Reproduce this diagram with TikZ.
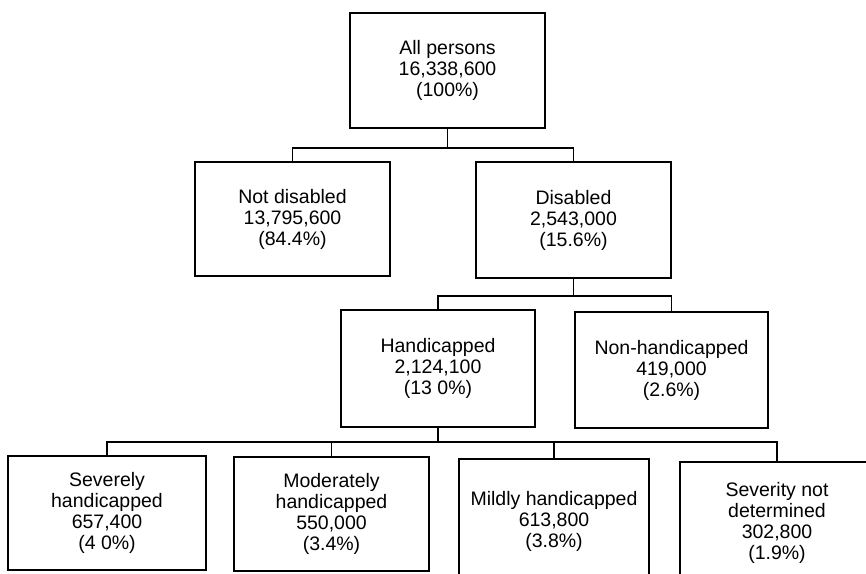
\documentclass[tikz,border=0pt]{standalone}
\usepackage{fontspec}
\setmainfont{Liberation Sans}
\begin{document}
\begin{tikzpicture}[x=1pt,y=-1pt,
  box/.style={draw=black, line width=1.3pt, align=center, inner sep=0pt,
    font=\fontsize{19.5}{21}\selectfont, text=black},
  link/.style={draw=black, line width=1.2pt}]
\useasboundingbox (0,0) rectangle (866,573);
\clip (0,0) rectangle (866,573);
\fill[white] (0,0) rectangle (866,573);
% level 0
\node[box, minimum width=195pt, minimum height=115pt] (root) at (447.5,70.5)
  {All persons\\16,338,600\\(100\%)};
% level 1
\node[box, minimum width=195pt, minimum height=114pt] (nd) at (292.5,219)
  {Not disabled\\13,795,600\\(84.4\%)};
\node[box, minimum width=195pt, minimum height=116pt] (dis) at (573.5,220)
  {Disabled\\2,543,000\\(15.6\%)};
% level 2
\node[box, minimum width=194pt, minimum height=117pt] (hand) at (438,368.5)
  {Handicapped\\2,124,100\\(13 0\%)};
\node[box, minimum width=193pt, minimum height=116pt] (nonh) at (671.5,370)
  {Non-handicapped\\419,000\\(2.6\%)};
% level 3
\node[box, minimum width=198pt, minimum height=114pt] (sev) at (107,513)
  {Severely\\handicapped\\657,400\\(4 0\%)};
\node[box, minimum width=195pt, minimum height=114pt] (mod) at (331.5,514)
  {Moderately\\handicapped\\550,000\\(3.4\%)};
\node[box, minimum width=190pt, minimum height=125pt] (mild) at (554,521.5)
  {Mildly handicapped\\613,800\\(3.8\%)};
\node[box, minimum width=194pt, minimum height=122pt] (snd) at (777,523)
  {Severity not\\determined\\302,800\\(1.9\%)};
% bus coordinates
\coordinate (b1) at (447.5,148);
\coordinate (b2) at (573.5,296);
\coordinate (b3) at (438,442);
% connectors
\draw[link] (root.south) -- (root.south |- b1) -| (nd.north);
\draw[link] (root.south |- b1) -| (dis.north);
\draw[link] (dis.south) -- (dis.south |- b2) -| (hand.north);
\draw[link] (dis.south |- b2) -| (nonh.north);
\draw[link] (hand.south) -- (hand.south |- b3) -| (sev.north);
\draw[link] (hand.south |- b3) -| (mod.north);
\draw[link] (hand.south |- b3) -| (mild.north);
\draw[link] (hand.south |- b3) -| (snd.north);
\end{tikzpicture}
\end{document}
